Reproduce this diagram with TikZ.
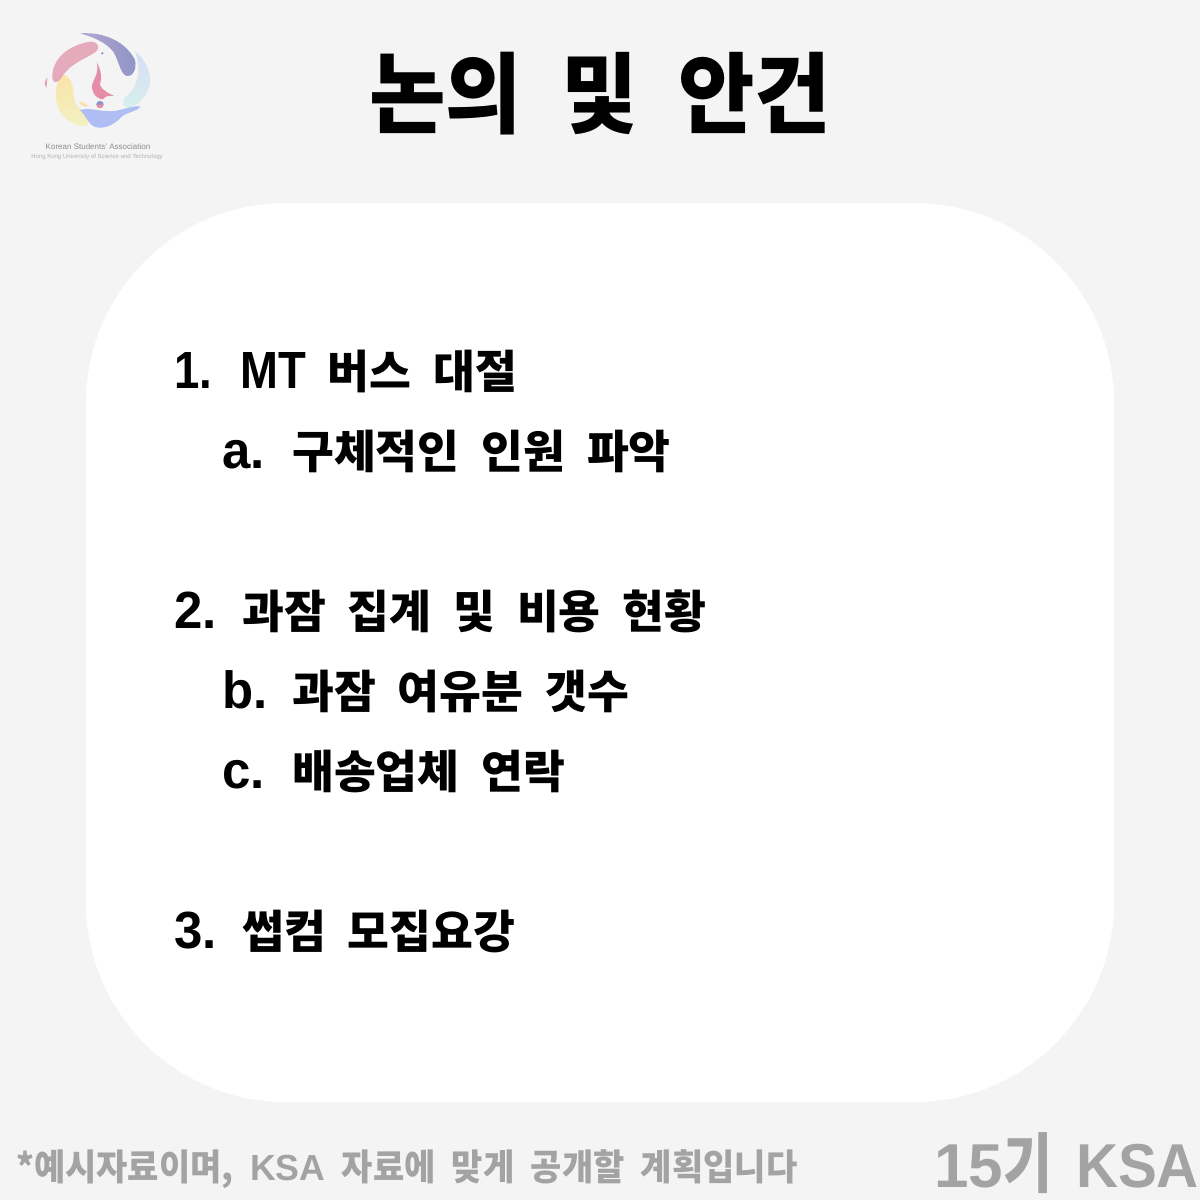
\documentclass[tikz,border=0pt]{standalone}
\usepackage{fontspec}
\setmainfont{Liberation Sans}
\newfontfamily\cjk{Noto Sans CJK KR}[UprightFont=* Black,WordSpace=1.45]
\newfontfamily\cjkfoot{Noto Sans CJK KR}[UprightFont=* Black,WordSpace=2.5]
\newfontfamily\cjkbig{Noto Sans CJK KR}[UprightFont=* Black,WordSpace=1.8]
\newfontfamily\cjktitle{Noto Sans CJK KR}[UprightFont=* Black,WordSpace=2.1]
\newfontfamily\lat{Liberation Sans}[UprightFont=* Bold]
\newcommand{\px}[1]{\fontsize{#1}{#1}\selectfont}
\newcommand{\ltn}[1]{\scalebox{1}[1.15]{\lat #1}}
\newcommand{\numbox}[2]{\makebox[#1pt][l]{\scalebox{1.12}[1.15]{\lat #2}}}
\definecolor{bgc}{HTML}{F4F4F4}
\definecolor{foot}{HTML}{A3A3A3}
\definecolor{lgflame}{HTML}{E58CA6}
\definecolor{B1}{HTML}{B5A6CF}
\definecolor{B2}{HTML}{8E94C8}
\definecolor{M1}{HTML}{D8DCF6}
\definecolor{M2}{HTML}{D6F0EC}
\definecolor{Y1}{HTML}{F9E3A8}
\definecolor{Y2}{HTML}{F3F2C4}
\definecolor{P1}{HTML}{E4A2B6}
\definecolor{L1}{HTML}{AEBDF3}
\tikzset{item/.style={anchor=base west,inner sep=0pt,font=\cjk\px{45.5}},
foottext/.style={anchor=base west,inner sep=0pt,text=foot},
logotext/.style={inner sep=0pt,anchor=base,text=black!45}}
\begin{document}
\begin{tikzpicture}[x=1pt,y=-1pt]
\useasboundingbox (0,0) rectangle (1200,1200);
\fill[bgc] (0,0) rectangle (1200,1200);
\fill[white,rounded corners=200] (86,203) rectangle (1114,1102);
% logo
\begin{scope}[shift={(20,20)},x=0.3333pt,y=-0.3333pt]
\shade[left color=B1,right color=B2] (180,40) .. controls (260,35) and (320,70) .. (345,120) .. controls (352,150) and (335,172) .. (320,168) .. controls (300,160) and (298,125) .. (280,95) .. controls (260,70) and (225,52) .. (180,40) -- cycle;
\shade[top color=M1,bottom color=M2] (345,95) .. controls (385,125) and (395,170) .. (388,200) .. controls (375,235) and (350,262) .. (322,262) .. controls (303,258) and (305,238) .. (322,226) .. controls (350,205) and (368,150) .. (345,95) -- cycle;
\shade[top color=Y1,bottom color=Y2] (130,163) .. controls (105,185) and (98,235) .. (122,278) .. controls (145,312) and (190,328) .. (205,312) .. controls (215,290) and (190,275) .. (172,260) .. controls (152,235) and (172,180) .. (130,163) -- cycle;
\fill[P1,opacity=.9] (97,165) .. controls (100,110) and (155,72) .. (212,65) .. controls (235,65) and (242,85) .. (228,95) .. controls (195,118) and (150,130) .. (125,172) .. controls (110,195) and (95,190) .. (97,165) -- cycle;
\fill[L1] (180,270) .. controls (215,260) and (250,280) .. (290,272) .. controls (320,265) and (350,255) .. (362,260) .. controls (350,275) and (325,275) .. (305,290) .. controls (285,315) and (240,335) .. (215,315) .. controls (200,300) and (195,285) .. (180,270) -- cycle;
\fill[lgflame] (230,128) .. controls (245,150) and (245,175) .. (240,195) .. controls (250,215) and (268,220) .. (282,228) .. controls (265,225) and (255,230) .. (248,238) .. controls (225,235) and (210,210) .. (218,190) .. controls (225,170) and (238,155) .. (230,128) -- cycle;
\fill[lgflame] (240,254) circle[radius=11];
\fill[B2] (229,254) arc[start angle=180,end angle=360,radius=11] -- cycle;
\fill[B2] (247,100) circle[radius=4];
\fill[Y1] (178,245) .. controls (190,245) and (200,252) .. (205,260) .. controls (195,262) and (182,258) .. (178,245) -- cycle;
\fill[P1] (82,172) .. controls (72,185) and (72,195) .. (80,203) .. controls (80,190) and (82,182) .. (82,172) -- cycle;
\end{scope}
\node[logotext,font=\px{8}] (logo1) at (98,149) {Korean Students' Association};
\node[logotext,font=\px{6},text=black!30] (logo2) at (97,158.5) {Hong Kong University of Science and Technology};
\node[inner sep=0pt,anchor=base,font=\cjktitle\px{83}] (title) at (600,126) {\scalebox{1}[1.06]{논의 및 안건}};
\node[item] (a1) at (174,388) {\makebox[66pt][l]{\ltn{1.}}\ltn{MT} 버스 대절};
\node[item] (a2) at (222,468) {\numbox{70}{a.}구체적인 인원 파악};
\node[item] (a3) at (174,628) {\numbox{68}{2.}과잠 집계 및 비용 현황};
\node[item] (a4) at (222,708) {\numbox{70}{b.}과잠 여유분 갯수};
\node[item] (a5) at (222,788) {\numbox{70}{c.}배송업체 연락};
\node[item] (a6) at (174,948) {\numbox{68}{3.}썹컴 모집요강};
\node[foottext,font=\cjkfoot\px{33}] (f1) at (16,1180) {\scalebox{1.03}[1.1]{*예시자료이며, \scalebox{1.05}[1]{\lat KSA} 자료에 맞게 공개할 계획입니다}};
\node[foottext,font=\cjkbig\px{62}] (f2) at (934,1187) {{\lat 15}\scalebox{.86}[1.05]{기} \hspace{-6pt}\scalebox{.94}[1]{\lat KSA}};
\end{tikzpicture}
\end{document}
